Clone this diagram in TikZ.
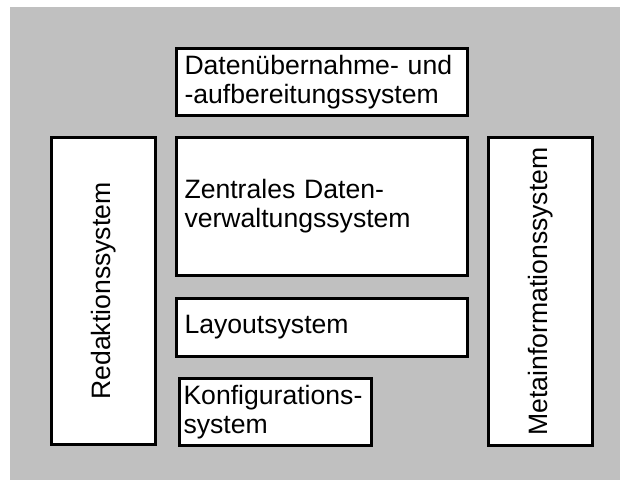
\documentclass[tikz,border=0pt]{standalone}
\usepackage{fontspec}
\setmainfont{Liberation Sans}
\definecolor{bggray}{RGB}{192,192,192}
\begin{document}
\begin{tikzpicture}[x=1pt,y=-1pt,
  box/.style={draw=black, line width=3pt, fill=white, rectangle, inner sep=0pt,
    font=\fontsize{26.6}{29}\selectfont},
  txtbox/.style={box, align=left}
]
\useasboundingbox (0,0) rectangle (620,480);
\fill[bggray] (10,7) rectangle (620,480);
\node[txtbox, minimum width=291pt, minimum height=67pt, text width=275pt] (dat) at (322,82)
  {Datenübernahme- und\\-aufbereitungssystem};
\node[txtbox, minimum width=291pt, minimum height=138pt, text width=275pt] (zen) at (322,206.5)
  {Zentrales Daten-\\verwaltungssystem};
\node[txtbox, minimum width=291pt, minimum height=58pt, text width=275pt] (lay) at (322,327.5)
  {Layoutsystem};
\node[txtbox, minimum width=192pt, minimum height=67pt, text width=184pt] (kon) at (275.5,412)
  {Konfigurations-\\system};
\node[box, rotate=90, minimum width=307pt, minimum height=104pt] (red) at (103.5,291)
  {Redaktionssystem};
\node[box, rotate=90, minimum width=308pt, minimum height=104pt] (meta) at (540.5,291.5)
  {Metainformationssystem};
\end{tikzpicture}
\end{document}
